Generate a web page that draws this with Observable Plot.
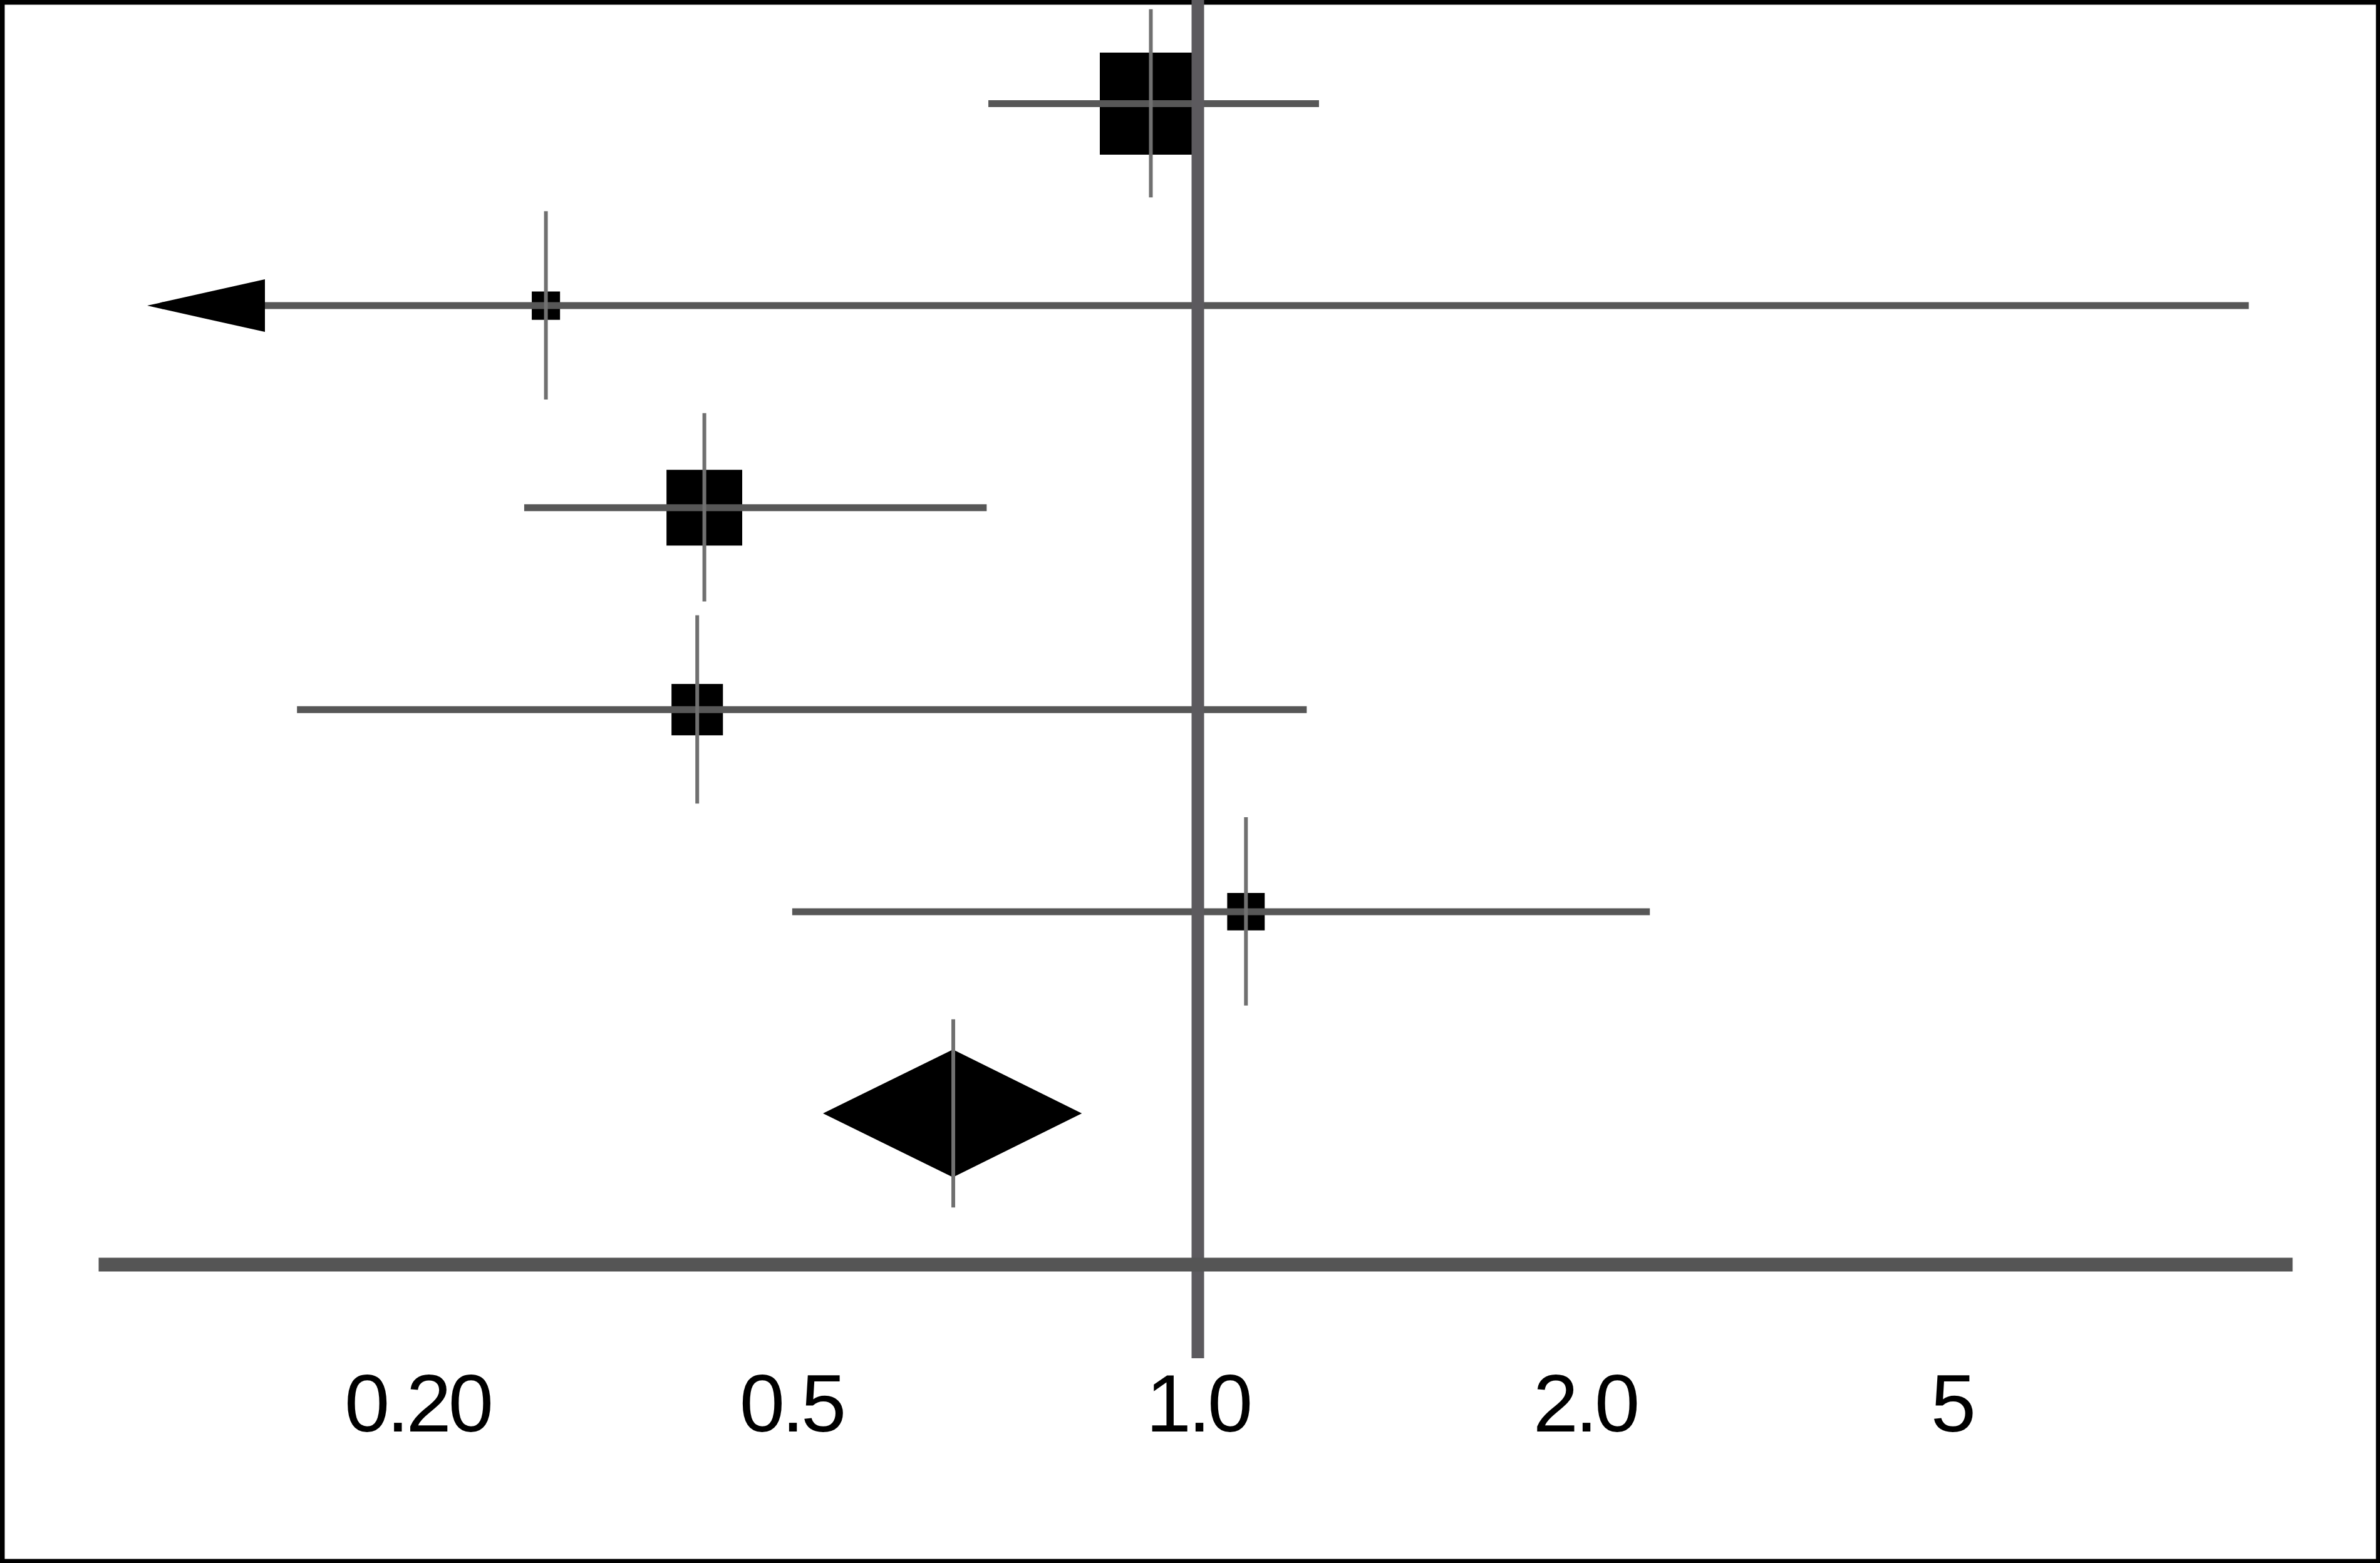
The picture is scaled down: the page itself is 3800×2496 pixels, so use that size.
<!DOCTYPE html>
<html>
<head>
<meta charset="utf-8">
<script src="https://cdn.jsdelivr.net/npm/d3@7"></script>
<script src="https://cdn.jsdelivr.net/npm/@observablehq/plot@0.6"></script>
<style>
  html, body { margin: 0; padding: 0; background: #ffffff; overflow: hidden; }
  #chart { width: 3800px; height: 2496px; }
</style>
</head>
<body>
<div id="chart"></div>
<script>
// ---------------- data ----------------
// Study rows, top to bottom: point estimate, 95% CI, weight (%)
const estimate = [0.923, 0.274, 0.404, 0.397, 1.09];
const ciLower  = [0.700, 0.107, 0.260, 0.149, 0.501];
const ciUpper  = [1.243, 10.5, 0.698, 1.216, 2.354];
const weight   = [49.6, 3.8, 27.3, 12.6, 6.7];
// CI runs off the left of the displayed range (drawn with an arrow)
const lowerTruncated = [false, true, false, false, false];

// Pooled (summary) estimate
const pooledEstimate = [0.659];
const pooledLower    = [0.528];
const pooledUpper    = [0.821];

// Axis ticks
const tickValues = [0.2, 0.5, 1, 2, 5];
const tickLabels = ["0.20", "0.5", "1.0", "2.0", "5"];

// ---------------- layout / style ----------------
const W = 3800, H = 2496;
const tickPixels = [666, 1263, 1912, 2530, 3116];   // where the reference places its ticks
const rowRange = [165, 1778];                       // first row, summary row
const TICK_HALF = 0.466;     // half length of the thin estimate line (row units)
const DIAMOND_HALF = 0.316;  // half height of the summary diamond (row units)
const gray = "#575757";
const M = {top: 0, left: 168, right: 151, bottom: 477};

const rows = estimate.map((e, i) => ({
  row: i, est: e, lo: ciLower[i], hi: ciUpper[i], w: weight[i], trunc: lowerTruncated[i]
}));
const pooledRow = estimate.length;
const pooled = pooledEstimate.map((e, i) => ({row: pooledRow, est: e, lo: pooledLower[i], hi: pooledUpper[i]}));
const diamond = pooled.flatMap(d => [
  {y: d.row - DIAMOND_HALF, x1: d.est, x2: d.est},
  {y: d.row,                x1: d.lo,  x2: d.hi},
  {y: d.row + DIAMOND_HALF, x1: d.est, x2: d.est}
]);

// Elongated filled arrowhead pointing left; its tip sits just beyond the CI end
const leftArrow = {
  draw(context) {
    const tip = -24, base = 164, h = 42;
    context.moveTo(tip, 0);
    context.lineTo(base, -h);
    context.lineTo(base, h);
    context.closePath();
  }
};

const labelOf = new Map(tickValues.map((v, i) => [v, tickLabels[i]]));

const chart = Plot.plot({
  width: W,
  height: H,
  marginTop: M.top,
  marginLeft: M.left,
  marginRight: M.right,
  marginBottom: M.bottom,
  style: {
    fontFamily: "'Liberation Sans', Arial, Helvetica, sans-serif",
    fontSize: "130px",
    letterSpacing: "-5px",
    background: "#ffffff",
    color: "#000000"
  },
  x: {type: "log", domain: tickValues, range: tickPixels, label: null},
  y: {type: "linear", domain: [0, pooledRow], range: rowRange, axis: null, label: null},
  r: {type: "sqrt", domain: [0, 50], range: [0, 92.3]},
  marks: [
    // outer border of the figure
    Plot.frame({stroke: "#000000", strokeWidth: 14, insetLeft: -M.left, insetRight: -M.right, insetTop: -M.top, insetBottom: -M.bottom}),
    // study weight boxes
    Plot.dot(rows, {x: "est", y: "row", r: "w", symbol: "square", fill: "#000000", stroke: "none"}),
    // summary diamond
    Plot.areaX(diamond, {y: "y", x1: "x1", x2: "x2", fill: "#000000", stroke: "none"}),
    // confidence intervals
    Plot.ruleY(rows, {y: "row", x1: "lo", x2: "hi", stroke: gray, strokeWidth: 11}),
    // arrowheads where the CI is truncated
    Plot.dot(rows.filter(d => d.trunc), {x: "lo", y: "row", symbol: leftArrow, fill: "#000000", stroke: "none"}),
    // thin vertical line at each point estimate
    Plot.ruleX([...rows, ...pooled], {
      x: "est",
      y1: d => d.row - TICK_HALF,
      y2: d => d.row + TICK_HALF,
      stroke: "#707070",
      strokeWidth: 6
    }),
    // line of no effect
    Plot.ruleX([1], {stroke: "#5c5a5e", strokeWidth: 20, insetBottom: -150}),
    // horizontal axis line
    Plot.frame({anchor: "bottom", stroke: "#555555", strokeWidth: 22}),
    // tick labels
    Plot.axisX({
      ticks: tickValues,
      tickFormat: d => labelOf.get(d),
      tickSize: 0,
      tickPadding: 174,
      fontSize: 130,
      label: null,
      fill: "#000000"
    })
  ]
});

document.getElementById("chart").appendChild(chart);
</script>
</body>
</html>
